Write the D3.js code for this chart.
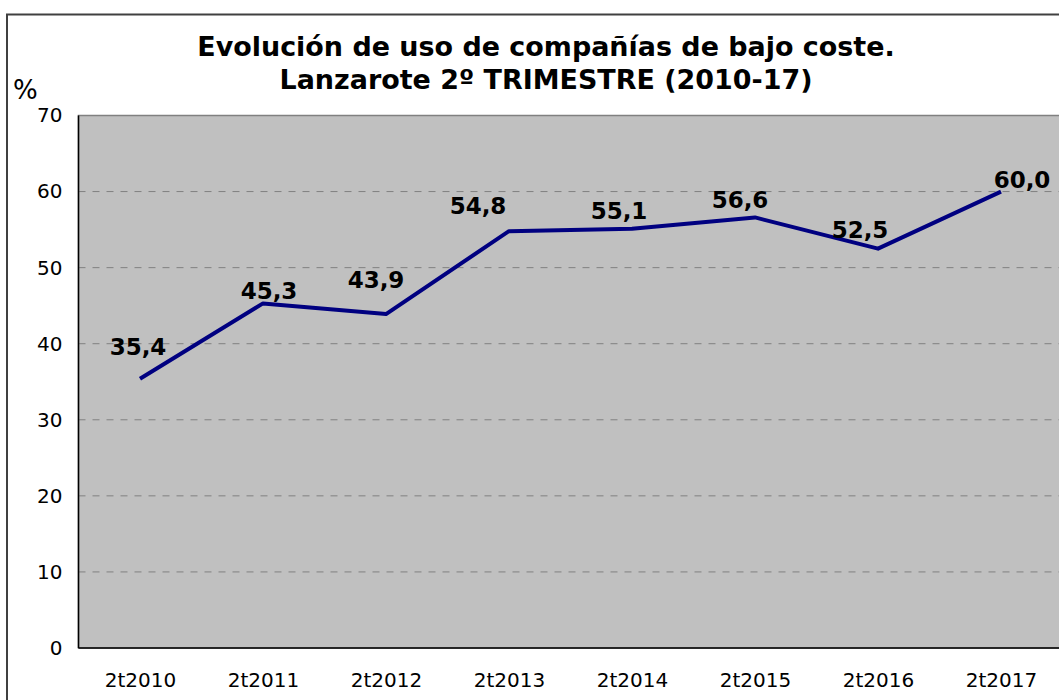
<!DOCTYPE html>
<html><head><meta charset="utf-8">
<script src="https://cdn.jsdelivr.net/npm/d3@7"></script>
<style>html,body{margin:0;padding:0;background:#fff;}svg{display:block;}</style>
</head><body>
<script>
const categories = ["2t2010","2t2011","2t2012","2t2013","2t2014","2t2015","2t2016","2t2017"];
const values = [35.4, 45.3, 43.9, 54.8, 55.1, 56.6, 52.5, 60.0];
const yTicks = [0,10,20,30,40,50,60,70];
const titleLines = ["Evolución de uso de compañías de bajo coste.", "Lanzarote 2º TRIMESTRE (2010-17)"];
const yUnit = "%";
// label nudges relative to each point (dx, dy to baseline)
const labelNudges = [[-2,-24],[6,-4],[-10,-26],[-31,-17],[-13,-10],[-15,-9],[-18,-11],[21,-4]];

const W = 1059, H = 700;
const font = "'DejaVu Sans', Verdana, sans-serif";
const svg = d3.select("body").append("svg").attr("width", W).attr("height", H);

// outer frame
svg.append("rect").attr("x", 7).attr("y", 14.5).attr("width", W + 20).attr("height", H + 20)
  .attr("fill", "#fff").attr("stroke", "#404040").attr("stroke-width", 2);

const L = 78.5, R = 1062.5, T = 115.5, B = 648;
const x = d3.scalePoint().domain(categories).range([L, R]).padding(0.5);
const y = d3.scaleLinear().domain([0, 70]).range([B, T]);

svg.append("rect").attr("x", L).attr("y", T).attr("width", R - L).attr("height", B - T)
  .attr("fill", "#c0c0c0").attr("stroke", "#808080").attr("stroke-width", 1.5);

// gridlines
svg.append("g").selectAll("line").data(yTicks.filter(d => d > 0 && d < 70)).join("line")
  .attr("x1", L).attr("x2", R).attr("y1", d => y(d)).attr("y2", d => y(d))
  .attr("stroke", "#808080").attr("stroke-width", 1).attr("stroke-dasharray", "7,7");

// axes lines
svg.append("line").attr("x1", L).attr("x2", L).attr("y1", T).attr("y2", B).attr("stroke", "#000").attr("stroke-width", 1.5);
svg.append("line").attr("x1", L).attr("x2", R).attr("y1", B).attr("y2", B).attr("stroke", "#000").attr("stroke-width", 1.5);

// y axis labels
const yAxis = d3.axisLeft(y).tickValues(yTicks).tickSize(0).tickPadding(16).tickFormat(d3.format("d"));
const gy = svg.append("g").attr("transform", `translate(${L},0)`).call(yAxis);
gy.select(".domain").remove();
gy.selectAll("text").attr("font-family", font).attr("font-size", 20).attr("fill", "#000");

// x axis labels
const xAxis = d3.axisBottom(x).tickSize(0).tickPadding(25);
const gx = svg.append("g").attr("transform", `translate(0,${B})`).call(xAxis);
gx.select(".domain").remove();
gx.selectAll("text").attr("font-family", font).attr("font-size", 20).attr("fill", "#000");

// line
const data = categories.map((c, i) => ({c, v: values[i], i}));
svg.append("path").datum(data)
  .attr("d", d3.line().x(d => x(d.c)).y(d => y(d.v)))
  .attr("fill", "none").attr("stroke", "#000080").attr("stroke-width", 4).attr("stroke-linejoin", "round");

// data labels
const fmt = v => d3.format(".1f")(v).replace(".", ",");
svg.append("g").selectAll("text").data(data).join("text")
  .attr("x", d => x(d.c) + labelNudges[d.i][0])
  .attr("y", d => y(d.v) + labelNudges[d.i][1])
  .attr("text-anchor", "middle").attr("font-family", font).attr("font-weight", "bold")
  .attr("font-size", 23).attr("fill", "#000").text(d => fmt(d.v));

// title
const tl = svg.append("g").selectAll("text").data(titleLines).join("text")
  .attr("x", 546).attr("y", (d, i) => 56 + i * 33)
  .attr("text-anchor", "middle").attr("font-family", font).attr("font-weight", "bold")
  .attr("font-size", 24).attr("fill", "#000").text(d => d);
// fit first line width to ~698px
const w0 = tl.nodes()[0].getComputedTextLength();
const fs = 24 * 698 / w0;
tl.attr("font-size", fs);

// unit
svg.append("text").attr("x", 13).attr("y", 99).attr("font-family", font).attr("font-size", 26)
  .attr("fill", "#000").text(yUnit);
</script>
</body></html>
